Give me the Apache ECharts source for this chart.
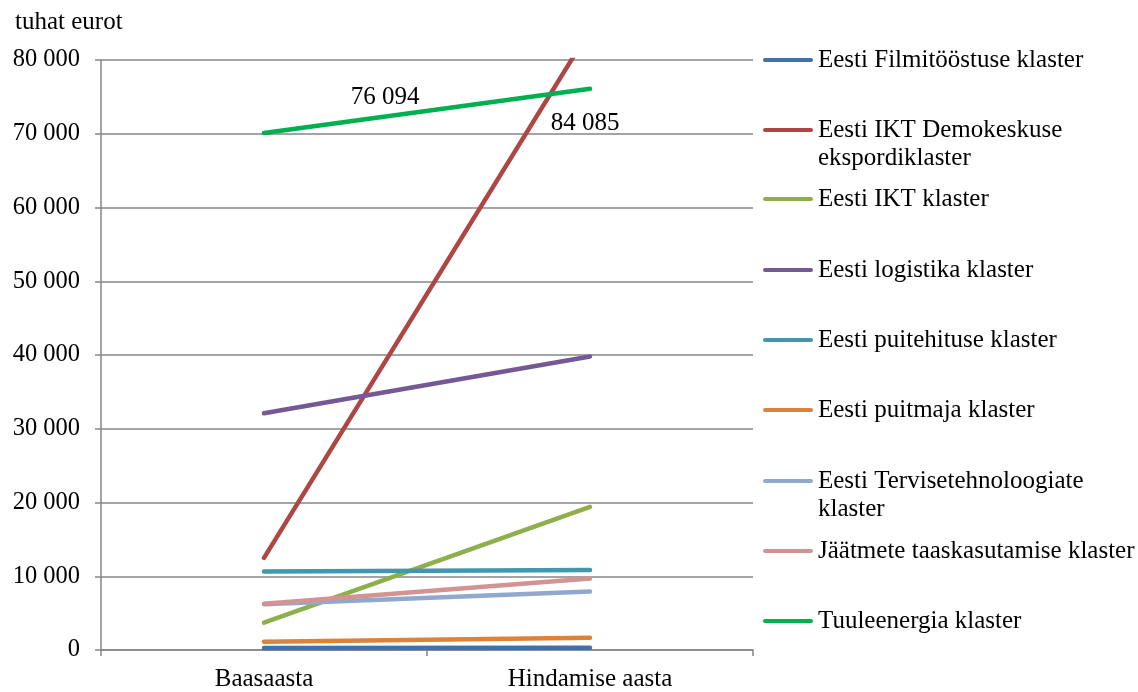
<!DOCTYPE html>
<html>
<head>
<meta charset="utf-8">
<script src="https://cdn.jsdelivr.net/npm/echarts@6/dist/echarts.min.js"></script>
<style>
  html, body { margin: 0; padding: 0; background: #fff; }
  #chart { width: 1138px; height: 692px; }
</style>
</head>
<body>
<div id="chart"></div>
<script>
// Categories and per-cluster values (tuhat eurot)
const categories = ['Baasaasta', 'Hindamise aasta'];

const seriesNames = [
  'Eesti Filmitööstuse klaster',
  'Eesti IKT Demokeskuse ekspordiklaster',
  'Eesti IKT klaster',
  'Eesti logistika klaster',
  'Eesti puitehituse klaster',
  'Eesti puitmaja klaster',
  'Eesti Tervisetehnoloogiate klaster',
  'Jäätmete taaskasutamise klaster',
  'Tuuleenergia klaster'
];

// Legend text as it wraps in the legend column
const legendTexts = [
  'Eesti Filmitööstuse klaster',
  'Eesti IKT Demokeskuse\nekspordiklaster',
  'Eesti IKT klaster',
  'Eesti logistika klaster',
  'Eesti puitehituse klaster',
  'Eesti puitmaja klaster',
  'Eesti Tervisetehnoloogiate\nklaster',
  'Jäätmete taaskasutamise klaster',
  'Tuuleenergia klaster'
];

const filmitoostus       = [270, 320];
const iktDemokeskus      = [12500, 84085];
const iktKlaster         = [3700, 19400];
const logistika          = [32100, 39800];
const puitehitus         = [10630, 10860];
const puitmaja           = [1130, 1670];
const tervisetehnoloogia = [6200, 7930];
const jaatmed            = [6270, 9690];
const tuuleenergia       = [70100, 76094];

const seriesValues = [
  filmitoostus, iktDemokeskus, iktKlaster, logistika, puitehitus,
  puitmaja, tervisetehnoloogia, jaatmed, tuuleenergia
];

const yTicks = { min: 0, max: 80000, interval: 10000 };

const colors = [
  '#4470A8', '#AE4743', '#8EAF4C', '#755995', '#3F98AE',
  '#DE823A', '#91A8CE', '#D39392', '#00B050'
];

// Value labels: series index, category index, label centre offset from the point
const valueLabels = [
  { series: 8, cat: 1, dx: -205, dy: 9 },
  { series: 1, cat: 1, dx: -5, dy: 94 }
];

const FONT = '"Liberation Serif", "Times New Roman", serif';

function fmt(v) {
  return String(v).replace(/\B(?=(\d{3})+(?!\d))/g, ' ');
}

const chart = echarts.init(document.getElementById('chart'), null, { renderer: 'canvas' });

// One legend block per series so the column spacing stays even
const legendTops = [46, 116, 185, 256, 326, 396, 467, 537, 607];
const legends = seriesNames.map((name, i) => {
  const twoLine = legendTexts[i].indexOf('\n') >= 0;
  return {
    data: [name],
    orient: 'vertical',
    left: 763,
    top: legendTops[i],
    padding: 0,
    itemWidth: 50,
    itemHeight: twoLine ? 32 : 4,
    icon: twoLine
      ? 'path://M2,0h46a2,2 0 0 1 0,4h-46a2,2 0 0 1 0,-4z M0,31.99h0.01v0.01h-0.01z'
      : 'path://M2,0h46a2,2 0 0 1 0,4h-46a2,2 0 0 1 0,-4z',
    selectedMode: false,
    formatter: () => legendTexts[i],
    textStyle: { fontFamily: FONT, fontSize: 25, color: '#000', lineHeight: 28 }
  };
});

const option = {
  animation: false,
  color: colors,
  title: {
    text: 'tuhat eurot',
    left: 10,
    top: 5,
    textStyle: { fontFamily: FONT, fontSize: 25, fontWeight: 'normal', color: '#000' }
  },
  legend: legends,
  grid: { left: 101, top: 60, width: 652, height: 592, containLabel: false },
  xAxis: {
    type: 'category',
    data: categories,
    boundaryGap: true,
    axisLine: { show: true, lineStyle: { color: '#868686', width: 1.5 } },
    axisTick: { show: true, length: 6, lineStyle: { color: '#868686', width: 1.5 } },
    axisLabel: { fontFamily: FONT, fontSize: 25, color: '#000', margin: 17 },
    splitLine: { show: false }
  },
  yAxis: {
    type: 'value',
    min: yTicks.min,
    max: yTicks.max,
    interval: yTicks.interval,
    axisLine: { show: true, lineStyle: { color: '#868686', width: 1.5 } },
    axisTick: { show: true, length: 6, lineStyle: { color: '#868686', width: 1.5 } },
    axisLabel: { fontFamily: FONT, fontSize: 24.5, color: '#000', margin: 21, formatter: v => fmt(v) },
    splitLine: { show: true, lineStyle: { color: '#868686', width: 1.5 } }
  },
  series: seriesNames.map((name, i) => ({
    name: name,
    type: 'line',
    data: seriesValues[i],
    showSymbol: false,
    symbol: 'none',
    clip: true,
    lineStyle: { width: 4.5, cap: 'round', color: colors[i] },
    itemStyle: { color: colors[i] },
    emphasis: { disabled: true }
  }))
};

chart.setOption(option);

// Value labels positioned from the axis scales
const labelGraphics = valueLabels.map(l => {
  const v = seriesValues[l.series][l.cat];
  const p = chart.convertToPixel({ xAxisIndex: 0, yAxisIndex: 0 }, [l.cat, v]);
  return {
    type: 'text',
    x: p[0] + l.dx,
    y: p[1] + l.dy,
    style: {
      text: fmt(v),
      fontFamily: FONT,
      fontSize: 25,
      fill: '#000',
      align: 'center',
      verticalAlign: 'middle'
    },
    z: 100
  };
});
chart.setOption({ graphic: labelGraphics });
</script>
</body>
</html>
